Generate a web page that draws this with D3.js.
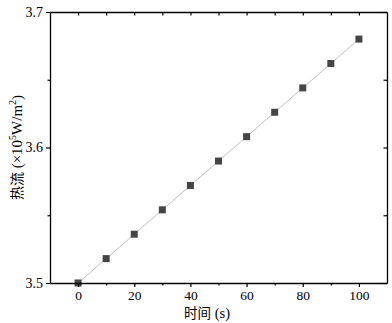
<!DOCTYPE html>
<html><head><meta charset="utf-8">
<script src="https://cdn.jsdelivr.net/npm/d3@7"></script>
<style>body{margin:0;background:#fff}svg{display:block}</style>
</head><body>
<script>
const times = [0, 10, 20, 30, 40, 50, 60, 70, 80, 90, 100];
const heatFlux = [3.500, 3.518, 3.536, 3.554, 3.572, 3.590, 3.608, 3.626, 3.644, 3.662, 3.680];
const xTicks = [0, 20, 40, 60, 80, 100];
const xMinor = [10, 30, 50, 70, 90];
const yTicks = [3.5, 3.6, 3.7];
const yMinor = [3.55, 3.65];

(function () {
const W = 392, H = 323;
const m = {l: 50, r: 5, t: 12, b: 40};
const svg = d3.select("body").append("svg").attr("width", W).attr("height", H);
const x = d3.scaleLinear().domain([-10, 110]).range([m.l, W - m.r]);
const y = d3.scaleLinear().domain([3.5, 3.7]).range([H - m.b, m.t]);
const font = "'Liberation Serif', 'Times New Roman', serif";

const g = svg.append("g");
g.append("path").datum(times.map((t, i) => [t, heatFlux[i]]))
  .attr("fill", "none").attr("stroke", "#c0c0c0").attr("stroke-width", 1)
  .attr("d", d3.line().x(d => x(d[0])).y(d => y(d[1])));
g.selectAll("rect.pt").data(times).join("rect").attr("class", "pt")
  .attr("x", (d) => x(d) - 3.5).attr("y", (d, i) => y(heatFlux[i]) - 3.5)
  .attr("width", 7).attr("height", 7).attr("fill", "#454545");

const ax = (sel) => sel.selectAll(".domain").attr("stroke", "#000").attr("stroke-width", 1.3);
const axB = svg.append("g").attr("transform", `translate(0,${H - m.b})`)
  .call(d3.axisBottom(x).tickValues(xTicks).tickSize(4).tickPadding(3).tickSizeOuter(0));
axB.selectAll("text").attr("font-family", font).attr("font-size", 13.5).attr("fill", "#000");
svg.append("g").attr("transform", `translate(0,${H - m.b})`)
  .call(d3.axisBottom(x).tickValues(xMinor).tickSize(2.5).tickFormat("").tickSizeOuter(0))
  .call(s => s.select(".domain").remove());
const axT = svg.append("g").attr("transform", `translate(0,${m.t})`)
  .call(d3.axisTop(x).tickValues(xTicks.concat(xMinor)).tickSize(-3.5).tickFormat("").tickSizeOuter(0));
const axL = svg.append("g").attr("transform", `translate(${m.l},0)`)
  .call(d3.axisLeft(y).tickValues(yTicks).tickSize(4).tickPadding(3).tickFormat(d3.format(".1f")).tickSizeOuter(0));
axL.selectAll("text").attr("font-family", font).attr("font-size", 14).attr("fill", "#000");
svg.append("g").attr("transform", `translate(${m.l},0)`)
  .call(d3.axisLeft(y).tickValues(yMinor).tickSize(2.5).tickFormat("").tickSizeOuter(0))
  .call(s => s.select(".domain").remove());
const axR = svg.append("g").attr("transform", `translate(${W - m.r},0)`)
  .call(d3.axisRight(y).tickValues(yTicks.concat(yMinor)).tickSize(-3.5).tickFormat("").tickSizeOuter(0));
[axB, axT, axL, axR].forEach(ax);
svg.selectAll(".tick line").attr("stroke", "#000").attr("stroke-width", 1.2);

svg.append("text").attr("x", 207).attr("y", 318).attr("text-anchor", "middle")
  .attr("font-family", font).attr("font-size", 14.5).attr("fill", "#000")
  .call(t => { t.append("tspan").attr("font-family", "'Noto Sans CJK SC', sans-serif").attr("font-size", 13.5).text("时间"); t.append("tspan").text(" (s)"); });

const yl = svg.append("text").attr("transform", `translate(22,${(m.t + H - m.b) / 2}) rotate(-90)`)
  .attr("text-anchor", "middle").attr("font-family", font).attr("font-size", 15).attr("fill", "#000");
yl.append("tspan").attr("font-family", "'Noto Sans CJK SC', sans-serif").attr("font-size", 14).text("热流");
yl.append("tspan").text(" (×10");
yl.append("tspan").attr("font-size", 10).attr("dy", -6).text("5");
yl.append("tspan").attr("dy", 6).text("W/m");
yl.append("tspan").attr("font-size", 10).attr("dy", -6).text("2");
yl.append("tspan").attr("dy", 6).text(")");
})();
</script>
</body></html>
